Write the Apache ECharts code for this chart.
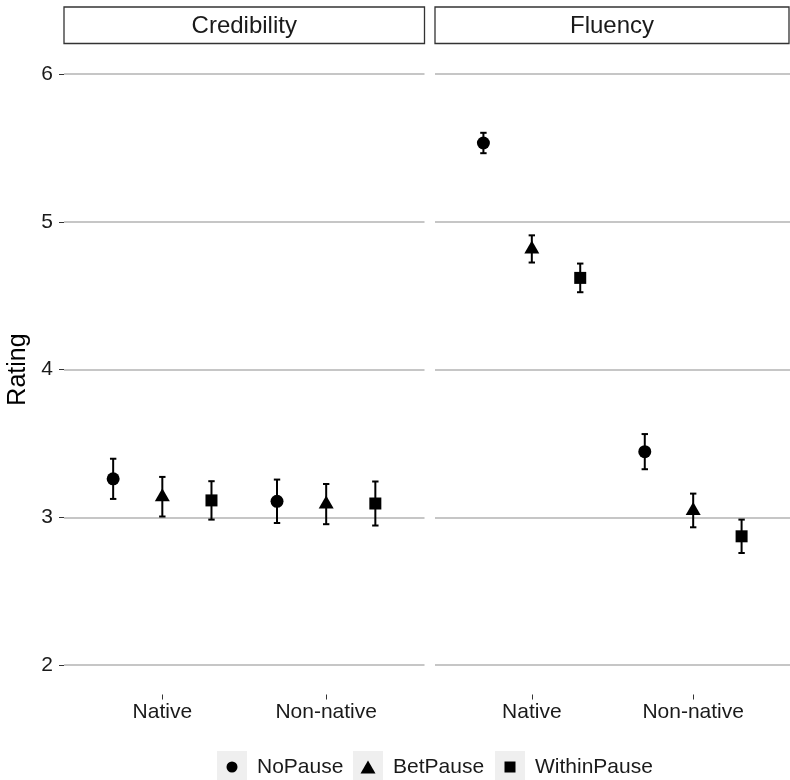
<!DOCTYPE html>
<html>
<head>
<meta charset="utf-8">
<script src="https://cdn.jsdelivr.net/npm/echarts@6/dist/echarts.min.js"></script>
<style>
html,body{margin:0;padding:0;background:#fff;}
#chart{width:790px;height:780px;}
</style>
</head>
<body>
<div id="chart"></div>
<script>
// ---- data ----
const categories = ['Native', 'Non-native'];
const facets = ['Credibility', 'Fluency'];
const groups = ['NoPause', 'BetPause', 'WithinPause'];
const yTicks = [2, 3, 4, 5, 6];
// means: [group][category]
const credibilityMean = [[3.26, 3.108], [3.139, 3.089], [3.114, 3.093]];
const credibilitySE   = [[0.136, 0.147], [0.134, 0.136], [0.130, 0.149]];
const fluencyMean     = [[5.533, 3.444], [4.816, 3.046], [4.620, 2.871]];
const fluencySE       = [[0.069, 0.119], [0.092, 0.114], [0.097, 0.113]];

// ---- layout / style ----
const FONT = "'Liberation Sans', Arial, Helvetica, sans-serif";
const dodge = [-0.3, 0, 0.3];
const symbols = ['circle', 'triangle', 'rect'];
const symbolSizes = [13, [15, 13], 12];
const symbolOffsets = [[0, 0], [0, -2], [0, 0]];
const legendIconSizes = [11, [15, 13], 11];
const legendKeyCenters = [232, 368, 510];
const panels = [
  {left: 64, width: 360.5, stripRight: 424.5},
  {left: 435, width: 360.5, stripRight: 789}
];
const facetMeans = [credibilityMean, fluencyMean];
const facetSEs = [credibilitySE, fluencySE];

const chart = echarts.init(document.getElementById('chart'), null, {renderer: 'canvas'});

const grids = panels.map(p => ({left: p.left, top: 74, width: p.width, height: 591}));

const xAxes = panels.map((p, i) => ({
  type: 'value', gridIndex: i, min: 0.4, max: 2.6, position: 'bottom', offset: 29.5,
  axisLine: {show: false},
  splitLine: {show: false},
  axisTick: {show: true, customValues: [1, 2], length: 5, lineStyle: {color: '#333', width: 1}},
  axisLabel: {customValues: [1, 2], margin: 7, fontSize: 21, color: '#1a1a1a', fontFamily: FONT,
    formatter: v => categories[Math.round(v) - 1] || ''}
}));

const yAxes = panels.map((p, i) => ({
  type: 'value', gridIndex: i, min: yTicks[0], max: yTicks[yTicks.length - 1], interval: 1,
  name: i === 0 ? 'Rating' : '', nameLocation: 'middle', nameRotate: 90, nameGap: 33,
  nameTextStyle: {fontSize: 25, color: '#000', fontFamily: FONT},
  axisLine: {show: false},
  axisTick: {show: i === 0, length: 5, lineStyle: {color: '#333', width: 1}},
  axisLabel: {show: i === 0, margin: 11, fontSize: 21, color: '#1a1a1a', fontFamily: FONT},
  splitLine: {show: true, lineStyle: {color: '#b3b3b3', width: 1.5}}
}));

const series = [];
facets.forEach((f, fi) => {
  groups.forEach((g, gi) => {
    const mean = facetMeans[fi][gi];
    const se = facetSEs[fi][gi];
    series.push({
      type: 'custom', name: f + ' ' + g + ' error', xAxisIndex: fi, yAxisIndex: fi, z: 2,
      encode: {x: 0, y: [1, 2]},
      data: categories.map((c, ci) => [ci + 1 + dodge[gi], mean[ci] - se[ci], mean[ci] + se[ci]]),
      renderItem: function (params, api) {
        const x = api.value(0);
        const top = api.coord([x, api.value(2)]);
        const bot = api.coord([x, api.value(1)]);
        const hw = 3.2;
        const st = {stroke: '#000', lineWidth: 2};
        return {type: 'group', children: [
          {type: 'line', shape: {x1: top[0], y1: top[1], x2: bot[0], y2: bot[1]}, style: st},
          {type: 'line', shape: {x1: top[0] - hw, y1: top[1], x2: top[0] + hw, y2: top[1]}, style: st},
          {type: 'line', shape: {x1: bot[0] - hw, y1: bot[1], x2: bot[0] + hw, y2: bot[1]}, style: st}
        ]};
      }
    });
    series.push({
      type: 'scatter', name: g, xAxisIndex: fi, yAxisIndex: fi, z: 5,
      symbol: symbols[gi], symbolSize: symbolSizes[gi], symbolOffset: symbolOffsets[gi],
      itemStyle: {color: '#000', opacity: 1},
      emphasis: {disabled: true},
      data: categories.map((c, ci) => [ci + 1 + dodge[gi], mean[ci]])
    });
  });
});

const legends = groups.map((g, gi) => {
  const sz = legendIconSizes[gi];
  const w = Array.isArray(sz) ? sz[0] : sz;
  const h = Array.isArray(sz) ? sz[1] : sz;
  return {
    data: [g], left: legendKeyCenters[gi] - w / 2, top: 756.5, padding: 0,
    itemWidth: w, itemHeight: h, selectedMode: false, orient: 'horizontal',
    textStyle: {fontSize: 21, color: '#1a1a1a', fontFamily: FONT, padding: [0, 0, 0, 20 - w / 2]}
  };
});

const graphics = [];
panels.forEach((p, i) => {
  graphics.push({type: 'rect', z: 0, shape: {x: p.left, y: 7, width: p.stripRight - p.left, height: 36.5},
    style: {fill: '#fff', stroke: '#333', lineWidth: 1.3}});
  graphics.push({type: 'text', z: 1, x: (p.left + p.stripRight) / 2, y: 26,
    style: {text: facets[i], fontSize: 24, fontFamily: FONT, fill: '#1a1a1a', align: 'center', verticalAlign: 'middle'}});
});
legendKeyCenters.forEach(cx => {
  graphics.push({type: 'rect', z: -1, shape: {x: cx - 15, y: 751, width: 30, height: 30}, style: {fill: '#efefef'}});
});

chart.setOption({
  animation: false,
  backgroundColor: '#fff',
  grid: grids,
  xAxis: xAxes,
  yAxis: yAxes,
  legend: legends,
  graphic: graphics,
  series: series
});
</script>
</body>
</html>
